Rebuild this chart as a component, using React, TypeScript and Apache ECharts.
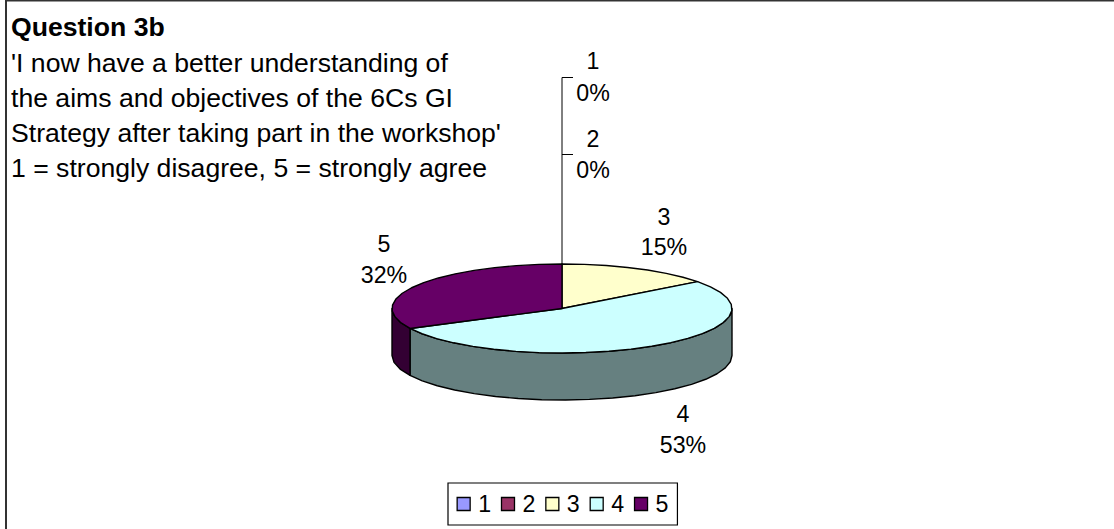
import React, { useEffect, useRef } from "react";
import * as echarts from "echarts";

const categories = ["1", "2", "3", "4", "5"];
const values = [0, 0, 14.7, 52.9, 32.4];
const topColors = ["#9999FF", "#993366", "#FFFFCC", "#CCFFFF", "#660066"];
const sideColors = ["#666699", "#662244", "#999977", "#668080", "#330033"];
const titleLines = [
  "'I now have a better understanding of",
  "the aims and objectives of the 6Cs GI",
  "Strategy after taking part in the workshop'",
  "1 = strongly disagree, 5 = strongly agree",
];
const FONT = "'Liberation Sans', Arial, sans-serif";
const TITLE_SIZE = 26.6;
const LABEL_SIZE = 23.2;

const CX = 562, CY = 308.5, RX = 170, RY = 44.5, DEPTH = 47;
const total = values.reduce((a, b) => a + b, 0);
const pt = (deg: number, dy = 0) => {
  const r = (deg * Math.PI) / 180;
  return [CX + RX * Math.sin(r), CY - RY * Math.cos(r) + dy];
};
const arc = (a: number, b: number, dy = 0) => {
  const out: number[][] = [];
  const n = Math.max(1, Math.round((b - a) / 8));
  for (let i = 0; i <= n; i++) out.push(pt(a + ((b - a) * i) / n, dy));
  return out;
};

const startAngle = (idx: number) =>
  (values.slice(0, idx).reduce((a, b) => a + b, 0) / total) * 360;

const labelPos: number[][] = [
  [593, 60.5, 93],
  [593, 138.5, 170],
  [664, 216.5, 247],
  [683, 413.5, 444.5],
  [384, 244, 275],
];

const makeSeries = (idx: number) => ({
  type: "custom",
  name: categories[idx],
  coordinateSystem: "none",
  data: [[values[idx]]],
  itemStyle: { color: topColors[idx], borderColor: "#000", borderWidth: 1 },
  silent: true,
  z: 2,
  renderItem: () => {
    const a = startAngle(idx);
    const b = startAngle(idx + 1);
    const children: any[] = [];
    const stroke = { stroke: "#000", lineWidth: 1.4, lineJoin: "round" };
    if (b > a) {
      const wa = Math.max(a, 90);
      const wb = Math.min(b, 270);
      if (wb > wa) {
        const top = arc(wa, wb);
        const bottom = arc(wa, wb, DEPTH).reverse();
        children.push({
          type: "polygon",
          shape: { points: [...top, ...bottom] },
          style: { fill: sideColors[idx], ...stroke },
        });
      }
      children.push({
        type: "polygon",
        shape: { points: [[CX, CY], ...arc(a, b)] },
        style: { fill: topColors[idx], ...stroke },
      });
    }
    const [x, y1, y2] = labelPos[idx];
    const textStyle = {
      fill: "#000",
      font: `${LABEL_SIZE}px ${FONT}`,
      align: "center",
      verticalAlign: "middle",
    };
    children.push(
      { type: "text", style: { ...textStyle, x, y: y1, text: categories[idx] } },
      {
        type: "text",
        style: { ...textStyle, x, y: y2, text: `${Math.round((values[idx] / total) * 100)}%` },
      }
    );
    return { type: "group", children };
  },
});

export default function App() {
  const ref = useRef<HTMLDivElement>(null);
  useEffect(() => {
    document.body.style.margin = "0";
    const chart = echarts.init(ref.current!, undefined, { renderer: "svg" });
    chart.setOption({
      animation: false,
      backgroundColor: "#fff",
      legend: {
        show: true,
        data: categories.map((name, i) => ({
          name,
          icon: "rect",
          itemStyle: { color: topColors[i], borderColor: "#000", borderWidth: 1.3 },
        })),
        left: 448,
        top: 483,
        orient: "horizontal",
        itemWidth: 13,
        itemHeight: 13,
        itemGap: 9.8,
        padding: [9.5, 9, 9.5, 8.5],
        borderColor: "#000",
        borderWidth: 1.2,
        selectedMode: false,
        textStyle: { color: "#000", fontFamily: FONT, fontSize: LABEL_SIZE, padding: [0, 0, 0, 3] },
      },
      series: categories.map((_, i) => makeSeries(i)),
      graphic: [
        {
          type: "line",
          silent: true,
          shape: { x1: 6, y1: 0, x2: 6, y2: 529 },
          style: { stroke: "#333", lineWidth: 2 },
        },
        {
          type: "line",
          silent: true,
          shape: { x1: 5, y1: 0.75, x2: 1114, y2: 0.75 },
          style: { stroke: "#333", lineWidth: 1.5 },
        },
        {
          type: "polyline",
          silent: true,
          shape: { points: [[CX, CY], [CX, 77.5], [573, 77.5]] },
          style: { fill: "none", stroke: "#000", lineWidth: 1 },
        },
        {
          type: "line",
          silent: true,
          shape: { x1: CX, y1: 154.5, x2: 573, y2: 154.5 },
          style: { stroke: "#000", lineWidth: 1 },
        },
        {
          type: "text",
          silent: true,
          style: {
            x: 11,
            y: 27,
            text: "Question 3b",
            fill: "#000",
            font: `bold ${TITLE_SIZE}px ${FONT}`,
            verticalAlign: "middle",
          },
        },
        ...titleLines.map((t, i) => ({
          type: "text",
          silent: true,
          style: {
            x: 11,
            y: 63 + i * 35.1,
            text: t,
            fill: "#000",
            font: `${TITLE_SIZE}px ${FONT}`,
            verticalAlign: "middle",
          },
        })),
      ],
    });
    return () => chart.dispose();
  }, []);
  return <div ref={ref} style={{ width: 1114, height: 529 }} />;
}
